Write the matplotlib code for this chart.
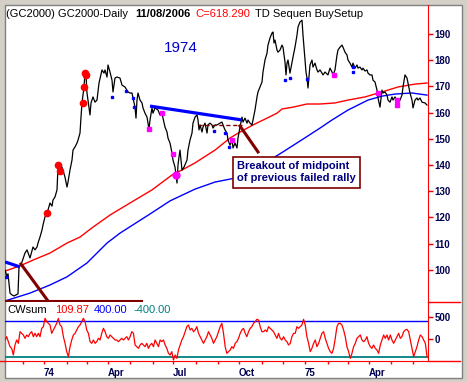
import matplotlib
matplotlib.use("Agg")
import matplotlib.pyplot as plt
from matplotlib.patches import Rectangle
from matplotlib.lines import Line2D
import numpy as np
import pandas as pd

plt.rcParams['font.family'] = ['Liberation Sans', 'DejaVu Sans']

# trading sessions counted from 1973-11-07, close price
day = [0, 2, 3, 5, 7, 9, 11, 13, 14, 16, 17, 20, 22, 25, 28, 30, 32, 33, 35, 37,
       38, 40, 42, 43, 45, 47, 48, 50, 52, 53, 55, 57, 60, 62, 63, 65, 67, 68, 70, 72,
       73, 75, 76, 77, 79, 80, 81, 82, 83, 85, 86, 88, 90, 92, 94, 97, 99, 100, 102, 103,
       105, 107, 108, 110, 112, 115, 117, 120, 123, 125, 127, 128, 130, 131, 132, 133, 135, 137, 138, 140,
       142, 143, 144, 145, 147, 148, 150, 153, 155, 157, 158, 160, 162, 163, 165, 167, 168, 170, 171, 172,
       173, 174, 175, 176, 177, 179, 182, 183, 185, 187, 188, 190, 192, 193, 194, 195, 197, 198, 200, 202,
       203, 205, 207, 208, 210, 212, 215, 217, 218, 220, 222, 223, 225, 227, 228, 230, 232, 233, 235, 237,
       238, 240, 242, 243, 245, 247, 248, 250, 252, 253, 255, 257, 258, 260, 262, 263, 265, 267, 268, 269,
       270, 272, 273, 275, 277, 278, 280, 281, 282, 283, 285, 287, 288, 290, 292, 293, 295, 297, 298, 299,
       300, 301, 302, 303, 305, 307, 308, 310, 312, 313, 315, 317, 318, 320, 323, 325, 327, 328, 330, 332,
       333, 335, 337, 338, 340, 342, 343, 345, 347, 348, 350, 352, 353, 355, 357, 358, 360, 362, 363, 365,
       367, 368, 370, 372, 373, 375, 377, 378, 380, 382, 383, 385, 387, 388, 390, 392, 393, 395, 397, 398,
       400, 402, 403, 405, 407, 408, 410, 412, 413, 415, 417, 420, 422]
close = [99.9, 97.3, 98.5, 91.1, 90.4, 90.0, 90.4, 90.8, 101.1, 102.2, 103.0, 106.4, 107.6, 104.5, 108.7, 107.6, 108.7, 110.2, 112.5, 115.2,
         117.1, 120.2, 121.7, 122.8, 125.5, 124.3, 126.6, 127.8, 130.5, 139.2, 137.7, 139.2, 135.4, 131.6, 133.5, 138.1, 141.9, 145.7, 146.9, 148.4,
         149.5, 152.2, 158.3, 163.7, 169.8, 175.1, 174.4, 167.5, 164.8, 159.1, 163.7, 166.0, 164.0, 164.8, 171.3, 176.3, 175.1, 176.3, 173.6, 178.2,
         175.5, 172.4, 167.9, 173.2, 173.6, 173.2, 170.5, 169.8, 167.9, 167.5, 167.5, 165.6, 162.1, 157.9, 164.8, 167.5, 164.8, 163.7, 161.8, 159.8,
         158.3, 156.0, 153.7, 157.2, 161.8, 159.8, 161.8, 161.0, 159.1, 159.8, 157.9, 154.5, 152.6, 150.3, 148.4, 144.6, 141.9, 139.2, 136.1, 133.1,
         140.0, 143.1, 145.7, 141.9, 138.1, 139.2, 141.9, 145.7, 149.5, 152.2, 156.0, 158.3, 159.1, 157.2, 153.4, 155.3, 152.6, 154.5, 156.0, 152.2,
         155.3, 156.0, 155.3, 154.1, 155.3, 155.3, 156.0, 156.4, 155.3, 153.4, 152.2, 149.5, 147.6, 149.5, 146.5, 148.4, 146.5, 150.3, 154.5, 158.3,
         156.4, 157.9, 156.0, 157.2, 156.0, 155.3, 157.2, 161.0, 166.0, 167.9, 169.8, 171.7, 175.5, 180.1, 182.7, 185.8, 188.5, 190.4, 190.8, 186.6,
         187.7, 183.9, 183.1, 183.9, 185.8, 185.0, 179.3, 174.4, 178.9, 180.1, 175.1, 179.3, 181.2, 185.0, 189.6, 192.7, 194.6, 195.3, 189.6, 185.0,
         180.1, 175.5, 173.2, 169.4, 178.2, 180.1, 177.4, 178.9, 176.3, 175.5, 176.3, 175.1, 174.4, 175.5, 174.4, 177.0, 175.5, 174.4, 176.3, 182.0,
         183.9, 185.0, 185.8, 185.0, 183.1, 182.0, 180.1, 178.9, 177.4, 178.9, 177.0, 178.2, 177.0, 177.4, 176.3, 177.0, 175.9, 176.3, 175.1, 174.4,
         174.4, 172.4, 171.7, 168.6, 165.6, 162.1, 168.6, 167.5, 167.9, 166.7, 164.8, 164.0, 166.0, 164.8, 166.0, 164.8, 164.0, 164.8, 166.7, 169.8,
         174.4, 173.2, 171.3, 167.5, 164.8, 161.8, 164.8, 165.6, 164.8, 165.6, 164.0, 163.7, 162.9]

# moving averages
red_ma_day = [0, 15, 28, 45, 62, 75, 88, 105, 125, 147, 167, 177, 190, 210, 225, 235, 248, 262, 272, 277,
              288, 302, 315, 330, 343, 360, 377, 393, 410, 422]
red_ma = [99.5, 101.5, 103.7, 106.4, 110.2, 112.5, 116.3, 120.9, 125.5, 130.5, 136.2, 138.1, 140.8, 145.7, 150.3,
          152.6, 155.3, 157.9, 159.8, 161.4, 162.1, 163.3, 163.3, 163.7, 164.8, 166.0, 167.9, 169.8, 170.9, 171.3]
blue_ma_day = [0, 25, 45, 62, 82, 102, 115, 145, 165, 190, 210, 230, 250, 273, 298, 315, 327, 343, 353, 363,
               377, 390, 407, 422]
blue_ma = [88.1, 91.1, 94.2, 97.3, 102.6, 110.2, 114.0, 121.3, 126.3, 130.8, 133.5, 135.0, 138.9, 143.8, 149.9,
           154.1, 157.2, 161.0, 162.9, 164.8, 166.3, 167.1, 167.5, 166.7]

# setup markers
red_dot_day = [42, 53, 55, 78, 79, 80, 81]
red_dot_val = [121.7, 140.0, 137.7, 163.7, 169.8, 175.1, 174.4]
blue_dot_day = [1, 107, 121, 128, 129, 209, 220, 224, 280, 285, 302, 348, 348]
blue_dot_val = [97.3, 166.0, 168.2, 165.6, 162.1, 153.0, 152.2, 146.9, 172.4, 173.2, 172.8, 177.4, 175.5]
mag_dot_day = [144, 157, 168, 227, 329, 373, 392, 392]
mag_dot_val = [153.7, 159.8, 144.2, 149.5, 174.4, 167.5, 164.8, 162.9]
mag_big_day = [171]
mag_big_val = [136.2]

# CWsum oscillator, evenly spaced across the chart
cw = [-22, 52, -60, -172, -209, -359, -134, -22, -97, 164, 127, 90, 15, 90, 52, 127, 164, 52, 127, 52,
      127, 52, 239, 276, 463, 388, 351, 314, 127, 202, 276, 351, 463, 314, 276, 52, -97, -284, -396, -172,
      -22, 90, 127, 202, 276, 314, 388, 463, 388, 202, 127, -60, -97, -22, -97, -60, 15, -22, 127, 239,
      164, 52, 15, 90, 52, 15, -22, -22, -60, -22, 15, -22, 15, 52, -22, 52, 164, 127, -134, -172,
      -209, -134, -97, -134, -172, -97, -209, -134, -97, -172, -22, -97, -172, -22, -60, -22, -134, -209, -321, -359,
      -284, -471, -359, -433, -247, -134, -22, 52, 164, 276, 314, 202, 239, 164, 202, 276, 127, 52, -22, -97,
      -22, 52, 164, 90, 15, -97, -22, 52, 164, 276, 351, 127, -172, -321, -284, -247, -172, -209, -97, -60,
      15, 127, 202, 239, 127, 52, 164, 239, 276, 351, 388, 441, 426, 276, 164, 164, 202, 164, 276, 239,
      202, 164, 90, 15, 127, 15, -22, 52, -22, -60, -134, -97, 52, 127, 127, 276, 239, 276, 314, 441,
      314, 52, -97, -284, -209, -97, -22, -172, -97, 15, 127, 164, 15, -97, -209, -284, -321, -209, 15, 276,
      351, 351, 314, 202, 52, -172, -284, -433, -321, -172, -97, 15, 52, 90, -22, -60, -22, 52, -97, -172,
      -209, -134, -209, -247, -321, -134, -22, 90, 15, 90, -22, 90, -22, -97, -22, 52, 127, 15, 52, 164,
      202, 217, 164, -22, -209, -396, -284, -172, -22, 90, 52, -22, -97, -396]
cw_upper = 400
cw_lower = -400

first_session = '1973-11-07'
n_sessions = 424

W, H = 467, 382


def box(x0, y0, x1, y1):
    return [x0 / W, 1 - y1 / H, (x1 - x0) / W, (y1 - y0) / H]


fig = plt.figure(figsize=(W / 100, H / 100), dpi=100)
fig.patch.set_facecolor('#d4d0c8')
fig.patches.append(Rectangle((4.5 / W, 1 - 378 / H), (462 - 4.5) / W, (378 - 4.5) / H,
                             transform=fig.transFigure, fc='white', ec='#808080', lw=1, zorder=-1))

ax = fig.add_axes(box(5, 5, 428, 302))
ax2 = fig.add_axes(box(5, 302, 428, 361))

# price panel
ax.plot(red_ma_day, red_ma, color='#ff0000', lw=1.0)
ax.plot(blue_ma_day, blue_ma, color='#0000ff', lw=1.0)
ax.plot(day, close, color='black', lw=0.9)

# trend lines and notes
ax.plot([145, 237], [162.5, 157.2], color='#0000ff', lw=2.3, solid_capstyle='butt')
ax.plot([0, 15], [103.0, 101.1], color='#0000ff', lw=2.3, solid_capstyle='butt')
ax.plot([0, 3], [97.3, 97.3], color='#0000ff', lw=2.0, solid_capstyle='butt')
ax.plot([193, 237], [155.3, 155.3], color='#800000', lw=1.0, dashes=(3, 2))
ax.plot([16, 43], [102.2, 88.1], color='#800000', lw=2.2)
ax.plot([0, 137], [88.1, 88.1], color='#800000', lw=1.5)
ax.plot([235, 253], [154.9, 145.0], color='#800000', lw=2.2)

ax.plot(red_dot_day, red_dot_val, 'o', color='#ff0000', ms=4.5, mec='#ff0000')
ax.plot(blue_dot_day, blue_dot_val, 's', color='#0000ff', ms=2.0, mec='#0000ff')
ax.plot(mag_dot_day, mag_dot_val, 's', color='#ff00ff', ms=2.6, mec='#ff00ff')
ax.plot(mag_big_day, mag_big_val, 'o', color='#ff00ff', ms=5, mec='#ff00ff')

ax.text(176, 184.7, '1974', color='#0000c8', fontsize=11, ha='center', va='center')
ax.text(232, 137.3, 'Breakout of midpoint\nof previous failed rally', color='#000080',
        fontsize=8, fontweight='bold', ha='left', va='center', linespacing=1.25, zorder=5,
        bbox=dict(boxstyle='square,pad=0.4', fc='white', ec='#800000', lw=1.2))

ax.set_xlim(0, 423)
ax.set_ylim(87.7, 201.1)
ax.set_xticks([])
ax.yaxis.tick_right()
ax.set_yticks(range(100, 191, 10))
ax.tick_params(axis='y', colors='#ff0000', labelcolor='#000050', length=3.6, width=1,
               labelsize=7, pad=1)
for lbl in ax.get_yticklabels():
    lbl.set_fontweight('bold')
for s in ['left', 'top', 'bottom']:
    ax.spines[s].set_visible(False)
ax.spines['right'].set_color('#ff0000')
ax.set_facecolor('none')

# oscillator panel
cw_x = np.linspace(0, 422, len(cw))
ax2.axhline(cw_upper, color='#0000ff', lw=1)
ax2.axhline(cw_lower, color='#008080', lw=1.3)
ax2.plot(cw_x, cw, color='#ff0000', lw=0.9)
ax2.set_xlim(0, 423)
ax2.set_ylim(-493, 829)
ax2.yaxis.tick_right()
ax2.set_yticks([0, 500])
ax2.tick_params(axis='y', colors='#ff0000', labelcolor='#000050', length=3.6, width=1,
                labelsize=7, pad=1)

dates = pd.bdate_range(first_session, periods=n_sessions)
tick_pos, tick_lab = [], []
for i in range(1, len(dates)):
    if dates[i].month != dates[i - 1].month:
        tick_pos.append(i)
        d = dates[i]
        if d.month == 1:
            tick_lab.append(f"{d.year % 100:02d}")
        elif d.month in (4, 7, 10):
            tick_lab.append(d.strftime('%b'))
        else:
            tick_lab.append('')
ax2.set_xticks(tick_pos)
ax2.set_xticklabels(tick_lab)
ax2.tick_params(axis='x', colors='#ff0000', labelcolor='#000050', length=2.2, width=1,
                labelsize=7, pad=3)
for lbl in ax2.get_xticklabels() + ax2.get_yticklabels():
    lbl.set_fontweight('bold')
for lbl in ax2.get_xticklabels():
    lbl.set_ha('left')
for s in ['left', 'top']:
    ax2.spines[s].set_visible(False)
ax2.spines['right'].set_color('#ff0000')
ax2.spines['bottom'].set_color('#ff0000')
ax2.set_facecolor('none')

# red stubs in the right margin
for yy in (302, 361):
    fig.add_artist(Line2D([428 / W, 460 / W], [1 - yy / H, 1 - yy / H], color='#ff0000', lw=1,
                          transform=fig.transFigure))
fig.add_artist(Line2D([0 / W, 5 / W], [1 - 361 / H, 1 - 361 / H], color='#ff0000', lw=1,
                      transform=fig.transFigure))

# header texts
ty = 1 - 14 / H
fig.text(6 / W, ty, '(GC2000) GC2000-Daily', fontsize=8, va='center')
fig.text(135 / W, ty, '11/08/2006', fontsize=8, fontweight='bold', va='center')
fig.text(195 / W, ty, 'C=618.290', fontsize=8, color='#ff0000', va='center')
fig.text(255 / W, ty, 'TD Sequen BuySetup', fontsize=8, va='center')

ly = 1 - 310 / H
fig.text(7 / W, ly, 'CWsum', fontsize=8, va='center')
fig.text(55 / W, ly, '109.87', fontsize=8, color='#ff0000', va='center')
fig.text(94 / W, ly, '400.00', fontsize=8, color='#0000ff', va='center')
fig.text(133 / W, ly, '-400.00', fontsize=8, color='#008080', va='center')

fig.savefig('out.png', dpi=100, facecolor=fig.get_facecolor())
